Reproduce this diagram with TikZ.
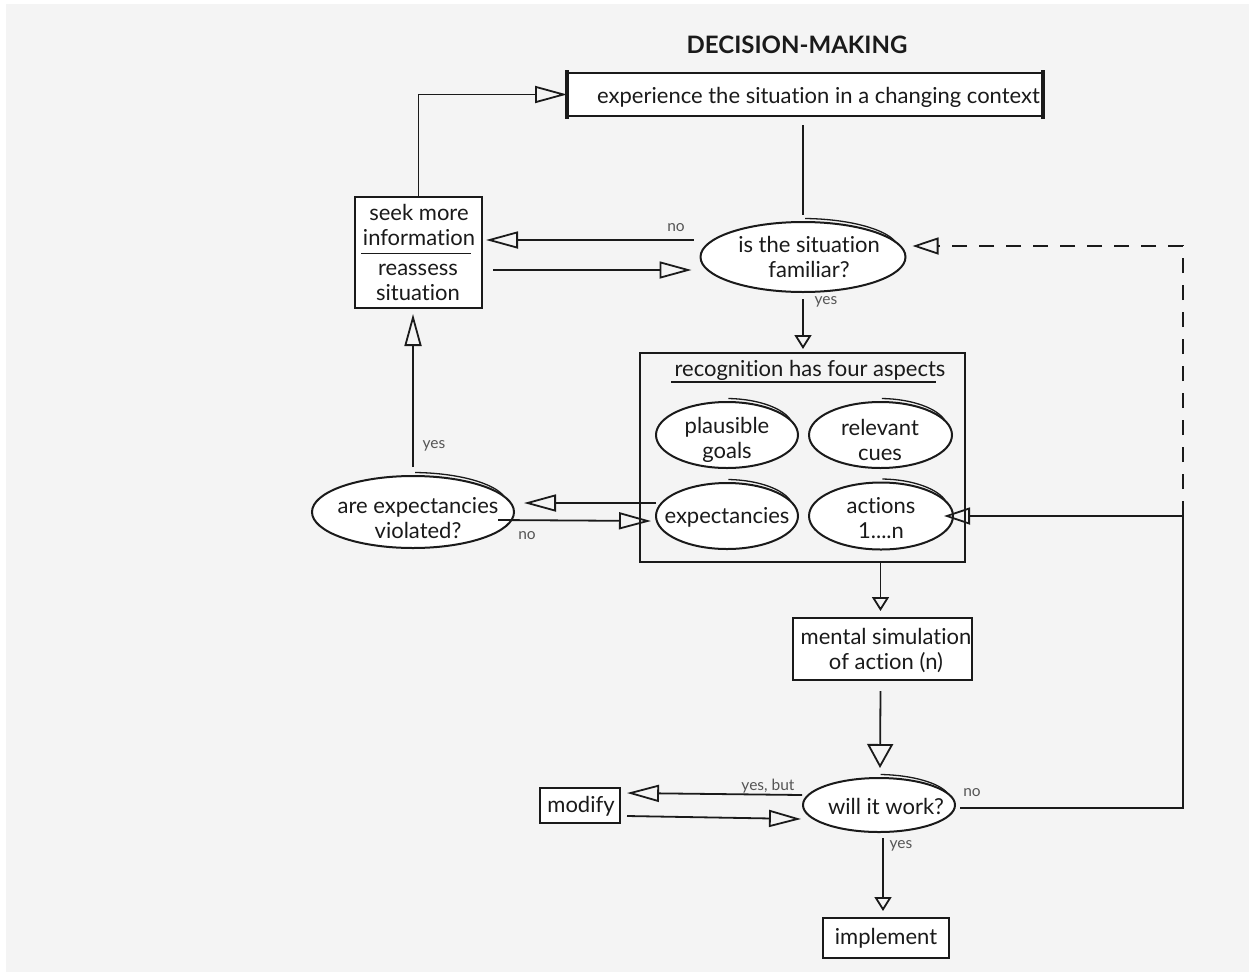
\documentclass[tikz,border=0pt]{standalone}
\usepackage{fontspec}
\setmainfont{Lato}[Ligatures=NoCommon]
\usetikzlibrary{arrows.meta,shapes.geometric,calc}
\definecolor{bg}{HTML}{F4F4F4}
\definecolor{ink}{HTML}{1A1A1A}
\definecolor{lbl}{HTML}{555555}

\begin{document}
\begin{tikzpicture}[x=1pt,y=-1pt,
  txt/.style={font=\fontsize{22}{25}\selectfont, text=ink, align=center, inner sep=0pt},
  small/.style={font=\fontsize{15.5}{17}\selectfont, text=lbl, inner sep=0pt},
  box/.style={draw=ink, fill=white, line width=2pt, rectangle, inner sep=0pt},
  oval/.style={draw=ink, fill=white, line width=2pt, ellipse, inner sep=0pt},
  conn/.style={draw=ink, line width=1.8pt},
  arrL/.style={conn, -{Triangle[open, length=32pt, width=17pt]}},
  arrM/.style={conn, -{Triangle[open, length=26pt, width=17pt]}},
  arrD/.style={conn, -{Triangle[open, length=24pt, width=26pt]}},
  arrS/.style={conn, -{Triangle[open, length=14pt, width=17pt]}},
  dashline/.style={draw=ink, line width=2.2pt, dash pattern=on 15pt off 12pt},
]
% canvas
\fill[white] (0,0) rectangle (1249,972);
\fill[bg] (6,4) rectangle (1249,972);
\useasboundingbox (0,0) rectangle (1249,972);

% heading
\node[font=\fontsize{24}{26}\selectfont\bfseries, text=ink, inner sep=0pt] (title) at (797,45) {DECISION-MAKING};

% top box
\node[box, minimum width=474pt, minimum height=43pt] (exp) at (805,94.5) {};
\draw[ink, line width=3.5pt] ($(exp.north west)+(0,-2)$) -- ($(exp.south west)+(0,2)$);
\draw[ink, line width=3.5pt] ($(exp.north east)+(0,-2)$) -- ($(exp.south east)+(0,2)$);
\node[txt, anchor=west] (expT) at (597,97) {experience the situation in a changing context};

% seek / reassess box
\node[box, minimum width=127pt, minimum height=111pt] (seek) at (418.5,252.5) {};
\node[txt] (seekA) at (419,225) {seek more\\information};
\node[txt] (seekB) at (418,282) {reassess\\situation};
\draw[conn] ($(seek.west)+(7,1)$) -- ($(seek.east)+(-12,1)$);

% familiarity test
\node[oval, minimum width=205pt, minimum height=70pt] (sit) at (803,257) {};
\node[txt] (sitT) at (809,257) {is the situation\\familiar?};

% recognition frame
\node[draw=ink, line width=2pt, minimum width=325pt, minimum height=209pt, inner sep=0pt] (rec) at (802.5,457.5) {};
\node[txt] (recT) at (810,370) {recognition has four aspects};
\draw[conn] ($(rec.north west)+(32,30)$) -- ($(rec.north east)+(-30,30)$);

\node[oval, minimum width=142pt, minimum height=66pt] (goals) at (727,435) {};
\node[txt] (goalsT) at (727,440) {plausible\\goals};
\node[oval, minimum width=143pt, minimum height=66pt] (cues) at (880.5,435) {};
\node[txt] (cuesT) at (880,440) {relevant\\cues};
\node[oval, minimum width=142pt, minimum height=66pt] (expect) at (727,516) {};
\node[txt] (expectT) at (727,517) {expectancies};
\node[oval, minimum width=144pt, minimum height=67pt] (actions) at (881,516) {};
\node[txt] (actionsT) at (881,518) {actions\\1....n};

% expectancy check
\node[oval, minimum width=202pt, minimum height=72pt] (viol) at (413,512) {};
\node[txt] (violT) at (418,518) {are expectancies\\violated?};

% simulation and outcome
\node[box, minimum width=179pt, minimum height=62pt] (sim) at (882.5,649) {};
\node[txt] (simT) at (886,650) {mental simulation\\of action (n)};
\node[oval, minimum width=152pt, minimum height=54pt] (will) at (879,805) {};
\node[txt] (willT) at (886,806) {will it work?};
\node[box, minimum width=80pt, minimum height=35pt] (mod) at (580,805.5) {};
\node[txt] (modT) at (581,806) {modify};
\node[box, minimum width=126pt, minimum height=40pt] (impl) at (886,938) {};
\node[txt] (implT) at (886,938) {implement};

% sketchy overlap at the top of each oval
\foreach \n/\rx/\ry in {sit/102.5/35, goals/71/33, cues/71.5/33, expect/71/33, actions/72/33.5, viol/101/36, will/76/27}{
  \draw[draw=ink, line width=1.3pt] ($(\n.center)+(0.02*\rx,-\ry-3.5)$) .. controls ($(\n.center)+(0.45*\rx,-\ry-3)$) and ($(\n.center)+(0.8*\rx,-0.8*\ry)$) .. ($(\n.center)+(0.9*\rx,-0.44*\ry)$);
}

% connectors
\draw[arrL] (seek.north) |- (exp.west);
\draw[conn] ($(exp.south)+(-2,8)$) -- ($(sit.north)+(0,-6)$);
\draw[arrL] ($(sit.west)+(-6,-17)$) -- ($(seek.east)+(3,-12.5)$);
\draw[arrL] ($(seek.east)+(10,17.5)$) -- ($(sit.west)+(-8,13)$);
\draw[arrS] ($(sit.south)+(0,6)$) -- ($(rec.north)+(0.5,-3)$);
\draw[arrL] ($(rec.west)+(17,45.5)$) -- ($(viol.east)+(9,-9)$);
\draw[arrL] ($(viol.east)+(-17,8)$) -- ($(expect.west)+(-4,5)$);
\draw[arrL] ($(viol.north)+(0,-8)$) -- ($(seek.south)+(-5.5,5)$);
\draw[arrS] ($(sim.north |- rec.south)+(-2,0)$) -- ($(sim.north)+(-2,-6)$);
\draw[arrD] ($(sim.south)+(-2,10)$) -- ($(will.north)+(1,-9)$);
\draw[arrL] ($(will.west)+(0,-10)$) -- ($(mod.east)+(6,-12.5)$);
\draw[arrL] ($(mod.east)+(6,10.5)$) -- ($(will.west)+(-1,14)$);
\draw[arrS] ($(impl.north |- will.south)+(-3,5)$) -- ($(impl.north)+(-3,-6)$);

% "no" loop back from the outcome test
\coordinate (jn) at (1183,516);
\draw[conn] ($(will.east)+(4,3)$) -| (jn);
\draw[arrM] (jn) -- ($(actions.east)+(-10,0)$);
\draw[dashline, -{Triangle[open, length=26pt, width=17pt, line width=1.8pt]}] (jn) |- ($(sit.east)+(6,-11)$);

% branch labels
\node[small] (noA) at (676,228) {no};
\node[small] (yesA) at (826,302) {yes};
\node[small] (noB) at (527,536) {no};
\node[small] (yesB) at (434,446) {yes};
\node[small] (yb) at (768,786) {yes, but};
\node[small] (noC) at (972,793) {no};
\node[small] (yesC) at (901,846) {yes};
\end{tikzpicture}
\end{document}
